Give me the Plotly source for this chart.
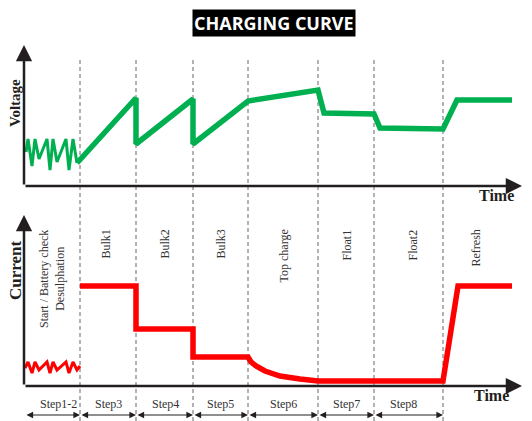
import plotly.graph_objects as go

# ---- data (time in arbitrary units, voltage/current in arbitrary units) ----
v_zig_t = [0.2, 0.4, 0.8, 1.1, 1.5, 2.3, 2.6, 2.9, 3.3, 4.2, 4.5, 4.9, 5.3]
v_zig_v = [3.4, 4.7, 2.0, 4.7, 2.7, 4.7, 1.6, 4.7, 2.4, 4.7, 1.6, 4.7, 2.3]

v_main_t = [5.3, 11.2, 11.2, 16.9, 16.9, 22.4, 29.4, 30.0, 35.0, 35.6, 41.9, 43.3, 48.8]
v_main_v = [2.3, 8.8, 4.2, 8.7, 4.2, 8.5, 9.6, 7.3, 7.2, 5.8, 5.7, 8.6, 8.6]

c_zig_t = [0.1, 0.4, 0.8, 1.1, 1.5, 2.3, 2.6, 2.9, 3.3, 4.2, 4.5, 4.9, 5.3, 5.6]
c_zig_c = [1.8, 2.4, 1.3, 2.4, 1.6, 2.4, 1.3, 2.4, 1.6, 2.4, 1.3, 2.4, 1.6, 2.0]

c_main_t = [5.6, 11.2, 11.2, 16.9, 16.9, 22.4, 22.7, 23.2, 24.1, 25.6, 27.6, 29.4, 41.9, 43.4, 48.8]
c_main_c = [10.0, 10.0, 5.7, 5.7, 2.9, 2.9, 2.4, 2.0, 1.5, 1.0, 0.7, 0.5, 0.5, 10.0, 10.0]

step_bounds = [0.1, 5.6, 11.2, 16.9, 22.4, 29.4, 35.0, 41.9]
step_names = ["Step1-2", "Step3", "Step4", "Step5", "Step6", "Step7", "Step8"]
step_label_t = [3.4, 8.4, 14.1, 19.6, 25.9, 32.2, 37.9]

phase_names = ["Start / Battery check<br>Desulphation", "Bulk1", "Bulk2", "Bulk3",
               "Top charge", "Float1", "Float2", "Refresh"]
phase_label_t = [2.8, 8.1, 14.0, 19.6, 25.9, 32.2, 38.8, 45.1]

X_MAX = 49.8
V_MAX = 14.1
C_MAX = 17.1

W, H = 532, 421
GREEN = "#00B050"
RED = "#FF0000"
AX = "#231F20"
SERIF = "Liberation Serif"


def py(p):
    return 1 - p / H


fig = go.Figure()
fig.add_trace(go.Scatter(x=v_zig_t, y=v_zig_v, mode="lines", xaxis="x", yaxis="y",
                         line=dict(color=GREEN, width=3), hoverinfo="skip"))
fig.add_trace(go.Scatter(x=v_main_t, y=v_main_v, mode="lines", xaxis="x", yaxis="y",
                         line=dict(color=GREEN, width=5.5), hoverinfo="skip"))
fig.add_trace(go.Scatter(x=c_zig_t, y=c_zig_c, mode="lines", xaxis="x2", yaxis="y2",
                         line=dict(color=RED, width=3), hoverinfo="skip"))
fig.add_trace(go.Scatter(x=c_main_t, y=c_main_c, mode="lines", xaxis="x2", yaxis="y2",
                         line=dict(color=RED, width=5.5), hoverinfo="skip"))

xdom = [24 / W, 522 / W]
hidden = dict(showgrid=False, zeroline=False, showticklabels=False, showline=False,
              ticks="", fixedrange=True)
fig.update_layout(
    width=W, height=H,
    margin=dict(l=0, r=0, t=0, b=0),
    paper_bgcolor="white", plot_bgcolor="rgba(0,0,0,0)",
    showlegend=False,
    xaxis=dict(domain=xdom, range=[0, X_MAX], anchor="y", **hidden),
    yaxis=dict(domain=[py(186), py(45)], range=[0, V_MAX], anchor="x", **hidden),
    xaxis2=dict(domain=xdom, range=[0, X_MAX], anchor="y2", **hidden),
    yaxis2=dict(domain=[py(386), py(215)], range=[0, C_MAX], anchor="x2", **hidden),
)

shapes = []
for b in step_bounds[1:]:
    shapes.append(dict(type="line", xref="x", yref="paper", x0=b, x1=b,
                       y0=0, y1=py(58), line=dict(color="#666666", width=1, dash="4px,3px"),
                       layer="below"))
fig.update_layout(shapes=shapes)

ann = []
C = dict(xanchor="center", yanchor="middle", showarrow=False)
# title
ann.append(dict(text="<b>CHARGING CURVE</b>", xref="paper", yref="paper",
                x=274 / W, y=py(23.5), font=dict(family="Open Sans", size=18, color="white"),
                bgcolor="black", borderpad=1, **C))
# axes arrows
for xr, yr, ym in [("x", "y", V_MAX), ("x2", "y2", C_MAX)]:
    ann.append(dict(x=X_MAX, y=0, ax=0, ay=0, xref=xr, yref=yr, axref=xr, ayref=yr,
                    text="", showarrow=True, arrowhead=2, arrowsize=1.3,
                    arrowwidth=2.5, arrowcolor=AX))
    ann.append(dict(x=0, y=ym, ax=0, ay=0, xref=xr, yref=yr, axref=xr, ayref=yr,
                    text="", showarrow=True, arrowhead=2, arrowsize=1.3,
                    arrowwidth=2.5, arrowcolor=AX))
# axis titles
ann.append(dict(text="<b>Voltage</b>", xref="paper", yref="paper", x=15 / W, y=py(103),
                textangle=-90, font=dict(family=SERIF, size=15, color=AX), **C))
ann.append(dict(text="<b>Current</b>", xref="paper", yref="paper", x=15 / W, y=py(270),
                textangle=-90, font=dict(family=SERIF, size=17, color=AX), **C))
ann.append(dict(text="<b>Time</b>", xref="paper", yref="paper", x=496 / W, y=py(195),
                font=dict(family=SERIF, size=16, color=AX), **C))
ann.append(dict(text="<b>Time</b>", xref="paper", yref="paper", x=491 / W, y=py(395),
                font=dict(family=SERIF, size=16, color=AX), **C))
# phase labels
for i, (name, t) in enumerate(zip(phase_names, phase_label_t)):
    if i == 0:
        ann.append(dict(text=name, xref="x2", yref="paper", x=t, y=py(279),
                        textangle=-90, font=dict(family=SERIF, size=12, color="#333333"), **C))
    else:
        ann.append(dict(text=name, xref="x2", yref="paper", x=t, y=py(228),
                        xanchor="center", yanchor="top", textangle=-90, showarrow=False,
                        font=dict(family=SERIF, size=12, color="#333333")))
# step labels and arrows
for i, (name, t) in enumerate(zip(step_names, step_label_t)):
    ann.append(dict(text=name, xref="x2", yref="paper", x=t, y=py(404),
                    font=dict(family=SERIF, size=12, color="#333333"), **C))
    ann.append(dict(text="", xref="x2", yref="paper", x=step_bounds[i + 1], y=py(415),
                    axref="x2", ayref="pixel", ax=step_bounds[i], ay=0,
                    showarrow=True, arrowhead=2, arrowside="end+start",
                    arrowsize=1.2, arrowwidth=1.1, arrowcolor=AX))
fig.update_layout(annotations=ann)

fig.write_html("out.html", config={"displayModeBar": False},
               post_script="document.body.style.margin='0';")
